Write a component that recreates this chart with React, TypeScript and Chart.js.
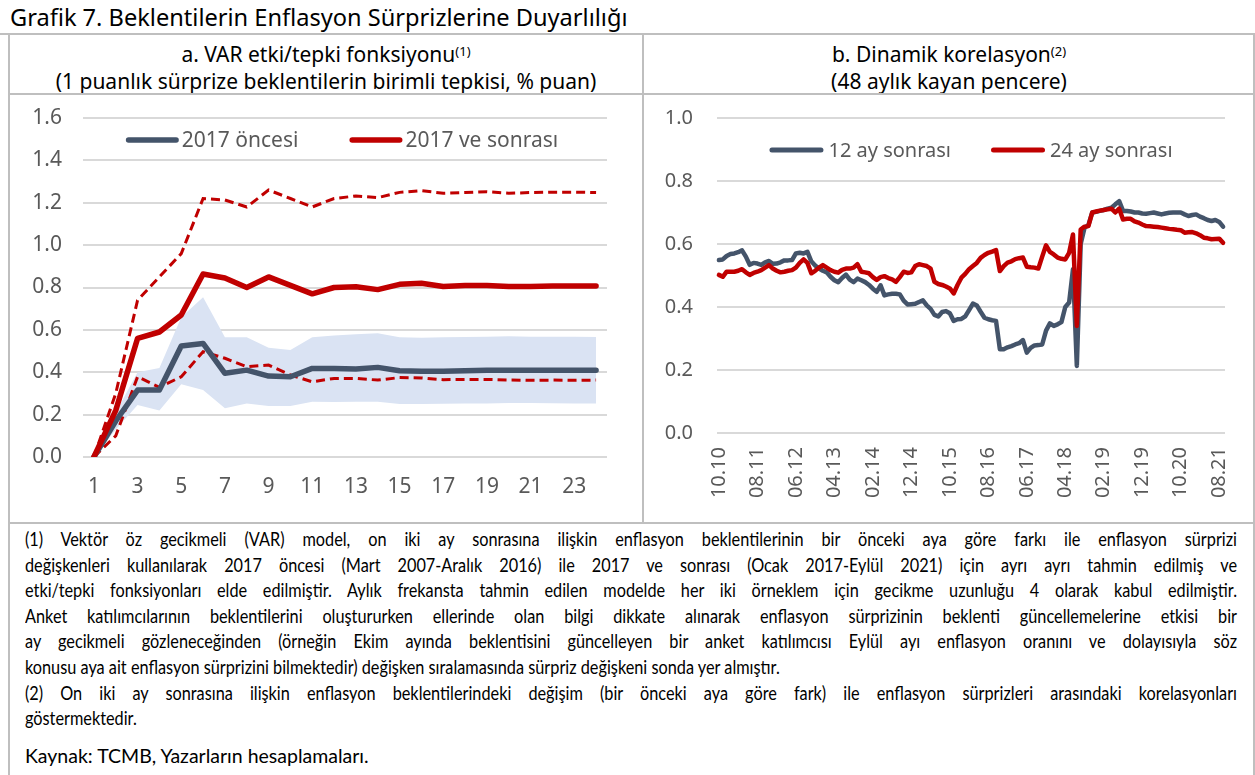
import React, { useEffect, useRef } from "react";
import { Chart, registerables } from "chart.js";

Chart.register(...registerables);

// ---------- Panel a: VAR impulse response ----------
const horizonLabels = ["1","2","3","4","5","6","7","8","9","10","11","12","13","14","15","16","17","18","19","20","21","22","23","24"];
const pre2017 = [0, 0.17, 0.316, 0.316, 0.524, 0.536, 0.395, 0.41, 0.382, 0.379, 0.418, 0.418, 0.415, 0.423, 0.407, 0.405, 0.405, 0.407, 0.41, 0.41, 0.41, 0.41, 0.409, 0.41];
const pre2017BandUpper = [0, 0.21, 0.40, 0.42, 0.66, 0.754, 0.565, 0.565, 0.516, 0.505, 0.565, 0.574, 0.579, 0.584, 0.565, 0.563, 0.565, 0.566, 0.568, 0.57, 0.568, 0.567, 0.567, 0.566];
const pre2017BandLower = [0, 0.13, 0.245, 0.219, 0.343, 0.316, 0.23, 0.253, 0.241, 0.241, 0.261, 0.259, 0.261, 0.261, 0.25, 0.25, 0.251, 0.252, 0.253, 0.255, 0.255, 0.254, 0.253, 0.253];
const post2017 = [0, 0.22, 0.56, 0.59, 0.67, 0.864, 0.845, 0.80, 0.85, 0.81, 0.77, 0.80, 0.804, 0.79, 0.815, 0.82, 0.805, 0.81, 0.81, 0.805, 0.805, 0.807, 0.807, 0.807];
const post2017Upper = [0, 0.30, 0.74, 0.85, 0.96, 1.22, 1.213, 1.18, 1.26, 1.22, 1.18, 1.22, 1.232, 1.224, 1.249, 1.257, 1.245, 1.248, 1.252, 1.245, 1.248, 1.25, 1.25, 1.248];
const post2017Lower = [0, 0.10, 0.379, 0.329, 0.379, 0.497, 0.466, 0.426, 0.434, 0.387, 0.355, 0.371, 0.371, 0.363, 0.375, 0.373, 0.365, 0.366, 0.366, 0.363, 0.362, 0.363, 0.362, 0.363];
const leftYTicks = [0, 0.2, 0.4, 0.6, 0.8, 1.0, 1.2, 1.4, 1.6];

// ---------- Panel b: rolling correlation ----------
const months = [
  "10.10","11.10","12.10",
  "01.11","02.11","03.11","04.11","05.11","06.11","07.11","08.11","09.11","10.11","11.11","12.11",
  "01.12","02.12","03.12","04.12","05.12","06.12","07.12","08.12","09.12","10.12","11.12","12.12",
  "01.13","02.13","03.13","04.13","05.13","06.13","07.13","08.13","09.13","10.13","11.13","12.13",
  "01.14","02.14","03.14","04.14","05.14","06.14","07.14","08.14","09.14","10.14","11.14","12.14",
  "01.15","02.15","03.15","04.15","05.15","06.15","07.15","08.15","09.15","10.15","11.15","12.15",
  "01.16","02.16","03.16","04.16","05.16","06.16","07.16","08.16","09.16","10.16","11.16","12.16",
  "01.17","02.17","03.17","04.17","05.17","06.17","07.17","08.17","09.17","10.17","11.17","12.17",
  "01.18","02.18","03.18","04.18","05.18","06.18","07.18","08.18","09.18","10.18","11.18","12.18",
  "01.19","02.19","03.19","04.19","05.19","06.19","07.19","08.19","09.19","10.19","11.19","12.19",
  "01.20","02.20","03.20","04.20","05.20","06.20","07.20","08.20","09.20","10.20","11.20","12.20",
  "01.21","02.21","03.21","04.21","05.21","06.21","07.21","08.21","09.21"
];
const corr12 = [
  0.549, 0.551, 0.562, 0.568, 0.570, 0.574, 0.580, 0.560, 0.534, 0.540,
  0.538, 0.534, 0.542, 0.546, 0.537, 0.538, 0.542, 0.548, 0.548, 0.549,
  0.570, 0.572, 0.570, 0.575, 0.545, 0.532, 0.522, 0.515, 0.510, 0.496,
  0.485, 0.479, 0.492, 0.503, 0.487, 0.479, 0.490, 0.485, 0.479, 0.470,
  0.458, 0.448, 0.469, 0.437, 0.440, 0.442, 0.442, 0.440, 0.420, 0.408,
  0.409, 0.410, 0.416, 0.421, 0.405, 0.394, 0.375, 0.370, 0.384, 0.387,
  0.380, 0.356, 0.361, 0.362, 0.370, 0.390, 0.411, 0.405, 0.385, 0.366,
  0.361, 0.358, 0.356, 0.266, 0.266, 0.272, 0.276, 0.281, 0.285, 0.295,
  0.255, 0.270, 0.278, 0.279, 0.281, 0.325, 0.348, 0.340, 0.345, 0.352,
  0.400, 0.414, 0.520, 0.213, 0.600, 0.652, 0.660, 0.700, 0.702, 0.705,
  0.708, 0.712, 0.715, 0.726, 0.736, 0.705, 0.705, 0.703, 0.700, 0.700,
  0.697, 0.696, 0.698, 0.700, 0.697, 0.694, 0.697, 0.699, 0.700, 0.700,
  0.700, 0.694, 0.689, 0.692, 0.694, 0.687, 0.682, 0.676, 0.673, 0.676,
  0.670, 0.655
];
const corr24 = [
  0.502, 0.496, 0.512, 0.512, 0.512, 0.515, 0.520, 0.510, 0.502, 0.508,
  0.512, 0.517, 0.525, 0.533, 0.522, 0.515, 0.510, 0.512, 0.515, 0.517,
  0.525, 0.540, 0.551, 0.540, 0.507, 0.515, 0.525, 0.533, 0.525, 0.517,
  0.512, 0.509, 0.518, 0.522, 0.522, 0.525, 0.536, 0.512, 0.510, 0.507,
  0.495, 0.486, 0.495, 0.498, 0.492, 0.488, 0.480, 0.495, 0.512, 0.508,
  0.510, 0.530, 0.536, 0.533, 0.530, 0.522, 0.480, 0.473, 0.470, 0.465,
  0.459, 0.443, 0.470, 0.493, 0.505, 0.520, 0.530, 0.540, 0.556, 0.565,
  0.572, 0.576, 0.581, 0.514, 0.530, 0.541, 0.545, 0.552, 0.555, 0.557,
  0.528, 0.526, 0.525, 0.522, 0.560, 0.596, 0.575, 0.567, 0.557, 0.553,
  0.551, 0.572, 0.630, 0.340, 0.646, 0.655, 0.657, 0.700, 0.703, 0.706,
  0.708, 0.710, 0.712, 0.700, 0.712, 0.678, 0.680, 0.680, 0.672, 0.668,
  0.662, 0.657, 0.656, 0.655, 0.654, 0.652, 0.650, 0.648, 0.647, 0.645,
  0.644, 0.636, 0.637, 0.638, 0.634, 0.628, 0.620, 0.618, 0.615, 0.616,
  0.617, 0.604
];
const rightYTicks = [0, 0.2, 0.4, 0.6, 0.8, 1.0];

const BLUE = "#44546A";
const RED = "#C00000";
const BAND = "#DAE3F3";
const GRID = "#D9D9D9";
const TICK = "#595959";
const FONT = "'Noto Sans', 'Open Sans', sans-serif";

const footLines: { text: string; justify: boolean }[] = [
  { text: "(1) Vektör öz gecikmeli (VAR) model, on iki ay sonrasına ilişkin enflasyon beklentilerinin bir önceki aya göre farkı ile enflasyon sürprizi", justify: true },
  { text: "değişkenleri kullanılarak 2017 öncesi (Mart 2007-Aralık 2016) ile 2017 ve sonrası (Ocak 2017-Eylül 2021) için ayrı ayrı tahmin edilmiş ve", justify: true },
  { text: "etki/tepki fonksiyonları elde edilmiştir. Aylık frekansta tahmin edilen modelde her iki örneklem için gecikme uzunluğu 4 olarak kabul edilmiştir.", justify: true },
  { text: "Anket katılımcılarının beklentilerini oluştururken ellerinde olan bilgi dikkate alınarak enflasyon sürprizinin beklenti güncellemelerine etkisi bir", justify: true },
  { text: "ay gecikmeli gözleneceğinden (örneğin Ekim ayında beklentisini güncelleyen bir anket katılımcısı Eylül ayı enflasyon oranını ve dolayısıyla söz", justify: true },
  { text: "konusu aya ait enflasyon sürprizini bilmektedir) değişken sıralamasında sürpriz değişkeni sonda yer almıştır.", justify: false },
  { text: "(2) On iki ay sonrasına ilişkin enflasyon beklentilerindeki değişim (bir önceki aya göre fark) ile enflasyon sürprizleri arasındaki korelasyonları", justify: true },
  { text: "göstermektedir.", justify: false },
];

const insideLegend = {
  id: "insideLegend",
  afterDraw(chart: any, _args: any, opts: any) {
    if (!opts || !opts.indices) return;
    const { ctx, chartArea } = chart;
    const ds = chart.data.datasets;
    ctx.save();
    ctx.font = `${opts.fontSize}px ${FONT}`;
    const items = opts.indices.map((i: number) => ({ text: ds[i].label, color: ds[i].borderColor }));
    const widths = items.map((it: any) => opts.lineLength + opts.textGap + ctx.measureText(it.text).width);
    const total = widths.reduce((a: number, b: number) => a + b, 0) + opts.itemGap * (items.length - 1);
    let x = (chartArea.left + chartArea.right) / 2 - total / 2 + (opts.shift || 0);
    const y = chartArea.top + opts.offsetY;
    items.forEach((it: any, k: number) => {
      const lw = opts.lineWidth;
      ctx.strokeStyle = it.color;
      ctx.lineWidth = lw;
      ctx.lineCap = "round";
      ctx.setLineDash([]);
      ctx.beginPath();
      ctx.moveTo(x + lw / 2, y);
      ctx.lineTo(x + opts.lineLength - lw / 2, y);
      ctx.stroke();
      ctx.fillStyle = TICK;
      ctx.textBaseline = "middle";
      ctx.textAlign = "left";
      ctx.fillText(it.text, x + opts.lineLength + opts.textGap, y + 1);
      x += widths[k] + opts.itemGap;
    });
    ctx.restore();
  },
};

function leftConfig(): any {
  return {
    type: "line",
    data: {
      labels: horizonLabels,
      datasets: [
        { label: "2017 ve sonrası", data: post2017, borderColor: RED, borderWidth: 5.5, pointRadius: 0, order: 0, fill: false, borderJoinStyle: "round", borderCapStyle: "round" },
        { label: "2017 öncesi", data: pre2017, borderColor: BLUE, borderWidth: 5.5, pointRadius: 0, order: 1, fill: false, borderJoinStyle: "round", borderCapStyle: "round" },
        { label: "2017 ve sonrası üst", data: post2017Upper, borderColor: RED, borderWidth: 3, borderDash: [9, 5], pointRadius: 0, order: 2, fill: false },
        { label: "2017 ve sonrası alt", data: post2017Lower, borderColor: RED, borderWidth: 3, borderDash: [9, 5], pointRadius: 0, order: 3, fill: false },
        { label: "2017 öncesi alt", data: pre2017BandLower, borderColor: BAND, borderWidth: 0, pointRadius: 0, order: 5, fill: false },
        { label: "2017 öncesi üst", data: pre2017BandUpper, borderColor: BAND, backgroundColor: BAND, borderWidth: 0, pointRadius: 0, order: 4, fill: "-1" },
      ],
    },
    options: {
      responsive: false,
      animation: false,
      events: [],
      layout: { padding: { left: 0, right: 36, top: 23, bottom: 0 } },
      scales: {
        x: {
          type: "category",
          offset: true,
          grid: { display: false, drawTicks: false },
          border: { display: false },
          afterFit: (s: any) => { s.height = 66; s.paddingLeft = 0; s.paddingRight = 0; },
          ticks: {
            autoSkip: false,
            maxRotation: 0,
            minRotation: 0,
            padding: 17,
            color: TICK,
            font: { family: FONT, size: 21 },
            callback: (_v: any, i: number) => (i % 2 === 0 ? horizonLabels[i] : ""),
          },
        },
        y: {
          min: 0,
          max: 1.6,
          afterFit: (s: any) => { s.width = 83; s.paddingTop = 0; s.paddingBottom = 0; },
          afterBuildTicks: (s: any) => { s.ticks = leftYTicks.map((v) => ({ value: v })); },
          grid: { color: GRID, lineWidth: 2, drawTicks: false },
          border: { display: false },
          ticks: {
            padding: 21,
            color: TICK,
            font: { family: FONT, size: 21 },
            callback: (v: any) => Number(v).toFixed(1),
          },
        },
      },
      plugins: {
        legend: { display: false },
        tooltip: { enabled: false },
        insideLegend: { indices: [1, 0], fontSize: 21, lineLength: 53, lineWidth: 5.5, textGap: 3, itemGap: 51, offsetY: 22, shift: -3 },
      },
    },
    plugins: [insideLegend],
  };
}

function rightConfig(): any {
  return {
    type: "line",
    data: {
      labels: months,
      datasets: [
        { label: "24 ay sonrası", data: corr24, borderColor: RED, borderWidth: 4.5, pointRadius: 0, order: 0, fill: false, borderJoinStyle: "round", borderCapStyle: "round" },
        { label: "12 ay sonrası", data: corr12, borderColor: BLUE, borderWidth: 4.5, pointRadius: 0, order: 1, fill: false, borderJoinStyle: "round", borderCapStyle: "round" },
      ],
    },
    options: {
      responsive: false,
      animation: false,
      events: [],
      layout: { padding: { left: 0, right: 30, top: 23, bottom: 0 } },
      scales: {
        x: {
          type: "category",
          offset: true,
          grid: { display: false, drawTicks: false },
          border: { display: false },
          afterFit: (s: any) => { s.height = 90; s.paddingLeft = 0; s.paddingRight = 0; },
          ticks: {
            autoSkip: false,
            maxRotation: 90,
            minRotation: 90,
            padding: 14,
            color: TICK,
            font: { family: FONT, size: 20 },
            callback: (_v: any, i: number) => (i % 10 === 0 ? months[i] : ""),
          },
        },
        y: {
          min: 0,
          max: 1.0,
          afterFit: (s: any) => { s.width = 74; s.paddingTop = 0; s.paddingBottom = 0; },
          afterBuildTicks: (s: any) => { s.ticks = rightYTicks.map((v) => ({ value: v })); },
          grid: { color: GRID, lineWidth: 2, drawTicks: false },
          border: { display: false },
          ticks: {
            padding: 24,
            color: TICK,
            font: { family: FONT, size: 20 },
            callback: (v: any) => Number(v).toFixed(1),
          },
        },
      },
      plugins: {
        legend: { display: false },
        tooltip: { enabled: false },
        insideLegend: { indices: [1, 0], fontSize: 20, lineLength: 54, lineWidth: 5, textGap: 5, itemGap: 40, offsetY: 32, shift: 0 },
      },
    },
    plugins: [insideLegend],
  };
}

const LINE = "#BFBFBF";

function HLine({ y, x1, x2 }: { y: number; x1: number; x2: number }) {
  return <div style={{ position: "absolute", left: x1, top: y - 1, width: x2 - x1, height: 2, background: LINE, zIndex: 5 }} />;
}
function VLine({ x, y1, y2 }: { x: number; y1: number; y2: number }) {
  return <div style={{ position: "absolute", left: x - 1, top: y1, width: 2, height: y2 - y1, background: LINE, zIndex: 5 }} />;
}

export default function App() {
  const leftRef = useRef<HTMLCanvasElement>(null);
  const rightRef = useRef<HTMLCanvasElement>(null);

  useEffect(() => {
    const c1 = new Chart(leftRef.current as HTMLCanvasElement, leftConfig());
    const c2 = new Chart(rightRef.current as HTMLCanvasElement, rightConfig());
    return () => {
      c1.destroy();
      c2.destroy();
    };
  }, []);

  const FOOT_SCALE = 0.88;
  const footWidth = 1212 / FOOT_SCALE;

  return (
    <div style={{ position: "absolute", left: 0, top: 0, width: 1255, height: 775, background: "#fff", overflow: "hidden", fontFamily: FONT }}>
      <div style={{ position: "absolute", left: 10, top: 2, fontSize: 23.6, lineHeight: "30px", color: "#000", whiteSpace: "nowrap" }}>
        Grafik 7. Beklentilerin Enflasyon Sürprizlerine Duyarlılığı
      </div>

      <div style={{ position: "absolute", left: 9, top: 38, width: 634, textAlign: "center", fontSize: 21, lineHeight: "27px", color: "#000" }}>
        <div>a. VAR etki/tepki fonksiyonu<sup style={{ fontSize: 13, verticalAlign: "6px" }}>(1)</sup></div>
        <div>(1 puanlık sürprize beklentilerin birimli tepkisi, % puan)</div>
      </div>
      <div style={{ position: "absolute", left: 643, top: 38, width: 612, textAlign: "center", fontSize: 21, lineHeight: "27px", color: "#000" }}>
        <div>b. Dinamik korelasyon<sup style={{ fontSize: 13, verticalAlign: "6px" }}>(2)</sup></div>
        <div>(48 aylık kayan pencere)</div>
      </div>

      <canvas ref={leftRef} width={643} height={428} style={{ position: "absolute", left: 0, top: 95, width: 643, height: 428 }} />
      <canvas ref={rightRef} width={612} height={428} style={{ position: "absolute", left: 643, top: 95, width: 612, height: 428 }} />

      <div
        style={{
          position: "absolute",
          left: 25,
          top: 527,
          width: footWidth,
          transform: `scaleX(${FOOT_SCALE})`,
          transformOrigin: "0 0",
          fontFamily: "Lato, 'Noto Sans', sans-serif",
          fontSize: 18.5,
          lineHeight: "25.6px",
          color: "#000",
        }}
      >
        {footLines.map((l, i) => (
          <div key={i} style={{ textAlign: l.justify ? "justify" : "left", textAlignLast: l.justify ? "justify" : "left" } as any}>
            {l.text}
          </div>
        ))}
      </div>
      <div style={{ position: "absolute", left: 25, top: 743, fontFamily: "Lato, 'Noto Sans', sans-serif", fontSize: 19.5, lineHeight: "25.6px", color: "#000", whiteSpace: "nowrap" }}>
        Kaynak: TCMB, Yazarların hesaplamaları.
      </div>

      <HLine y={34} x1={0} x2={1255} />
      <HLine y={94} x1={8} x2={1255} />
      <HLine y={523} x1={8} x2={1255} />
      <VLine x={9} y1={34} y2={775} />
      <VLine x={643} y1={34} y2={523} />
      <VLine x={1254} y1={34} y2={775} />
    </div>
  );
}
